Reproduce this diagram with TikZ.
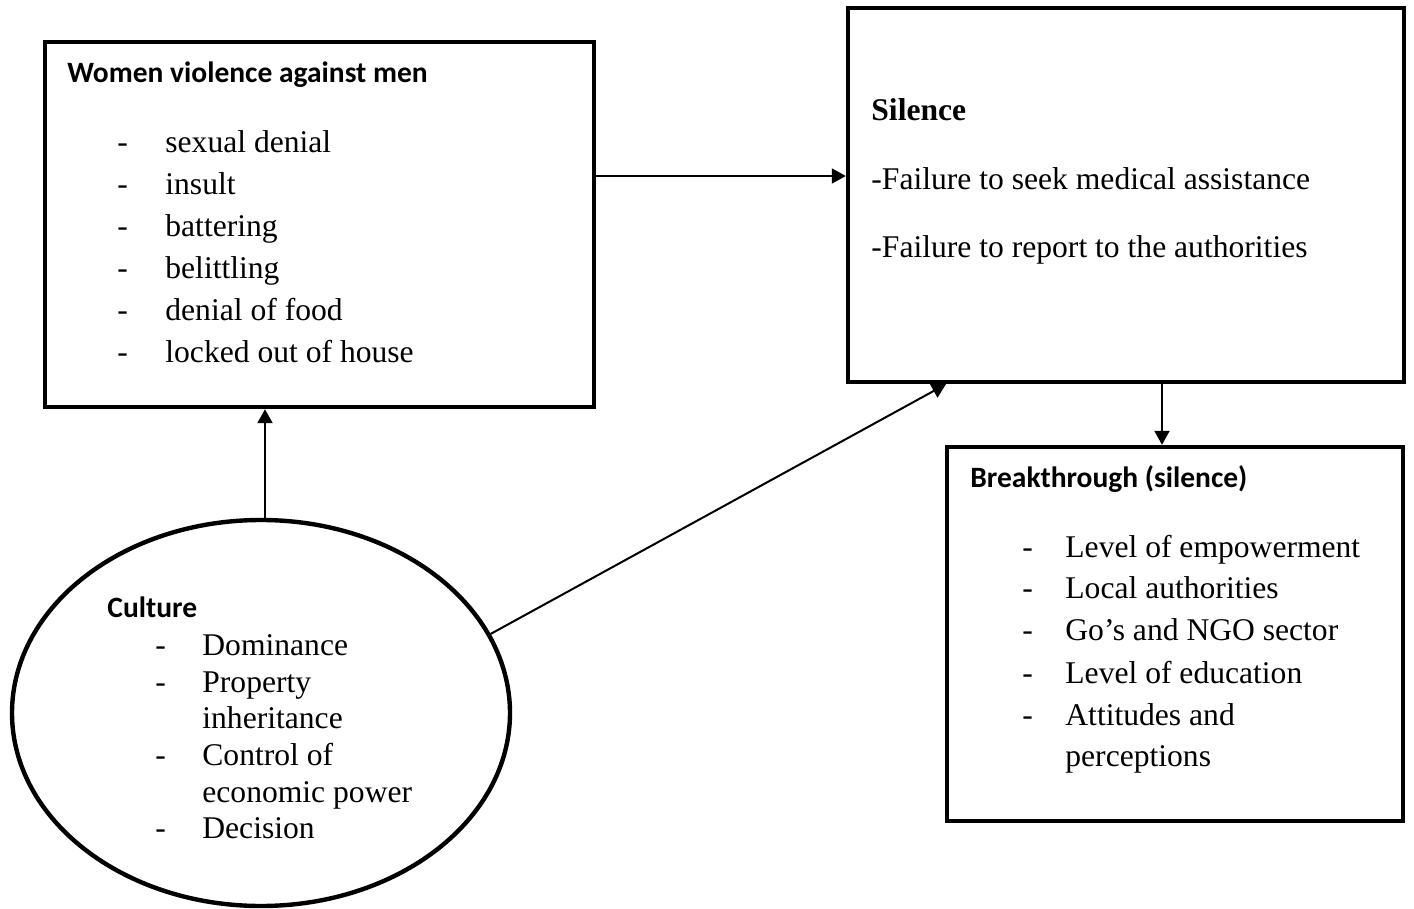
\documentclass[tikz,border=0pt]{standalone}
\usepackage{fontspec}
\setmainfont{Liberation Serif}
\newfontfamily\hdfont{Carlito}
\usetikzlibrary{arrows.meta,shapes.geometric}
\begin{document}
\begin{tikzpicture}[x=0.5pt,y=-0.5pt,
  boxnode/.style={draw,line width=2.2pt,rectangle,inner sep=0pt},
  ovalnode/.style={draw,line width=2.2pt,ellipse,inner sep=0pt},
  txt/.style={anchor=base west,inner sep=0pt,font=\fontsize{15.8}{19}\selectfont},
  btxt/.style={anchor=base west,inner sep=0pt,font=\fontsize{15.8}{19}\selectfont\bfseries},
  hd/.style={anchor=base west,inner sep=0pt,font=\fontsize{14.75}{17}\selectfont\hdfont\bfseries},
  arr/.style={line width=1pt,-{Triangle[length=7pt,width=7.5pt]}}]
\useasboundingbox (0,0) rectangle (1414,909);
% boxes
\node[boxnode,minimum width=274.5pt,minimum height=182.5pt] (box1) at (319.5,224.5) {};
\node[boxnode,minimum width=278pt,minimum height=187pt] (box2) at (1126,195) {};
\node[boxnode,minimum width=228pt,minimum height=187pt] (box3) at (1175,634) {};
\node[ovalnode,minimum width=249pt,minimum height=193pt] (cult) at (261,713) {};
% box 1 text
\node[hd] (h1) at (67,83) {Women violence against men};
\foreach \t [count=\i] in {sexual denial,insult,battering,belittling,denial of food,locked out of house}{
  \node[txt] (d1\i) at (117,{153+42*(\i-1)}) {-};
  \node[txt] (w1\i) at (165,{153+42*(\i-1)}) {\t};
}
% box 2 text
\node[btxt] (h2) at (871,121) {Silence};
\node[txt] (w21) at (871,190) {-Failure to seek medical assistance};
\node[txt] (w22) at (871,258) {-Failure to report to the authorities};
% box 3 text
\node[hd] (h3) at (970,487) {Breakthrough (silence)};
\foreach \t/\y [count=\i] in {Level of empowerment/557,Local authorities/598,Go’s and NGO sector/640,Level of education/683,Attitudes and/725}{
  \node[txt] (d3\i) at (1022,\y) {-};
  \node[txt] (w3\i) at (1065,\y) {\t};
}
\node[txt] (w36) at (1065,766) {perceptions};
% culture text
\node[hd] (h4) at (107,617) {Culture};
\foreach \t/\y [count=\i] in {Dominance/655,Property/692,Control of/765,Decision/838}{
  \node[txt] (d4\i) at (155,\y) {-};
}
\node[txt] (w41) at (202,655) {Dominance};
\node[txt] (w42) at (202,692) {Property};
\node[txt] (w43) at (202,728) {inheritance};
\node[txt] (w44) at (202,765) {Control of};
\node[txt] (w45) at (202,802) {economic power};
\node[txt] (w46) at (202,838) {Decision};
% connectors
\coordinate (a1) at (0,176);
\coordinate (a3) at (265,0);
\coordinate (a4) at (1162,0);
\draw[arr] (box1.east |- a1) -- (box2.west |- a1);
\draw[arr] (cult.north -| a3) -- (box1.south -| a3);
\draw[arr] (box2.south -| a4) -- (box3.north -| a4);
\draw[arr] (cult.19) -- ([xshift=-90pt]box2.south);
\end{tikzpicture}
\end{document}
